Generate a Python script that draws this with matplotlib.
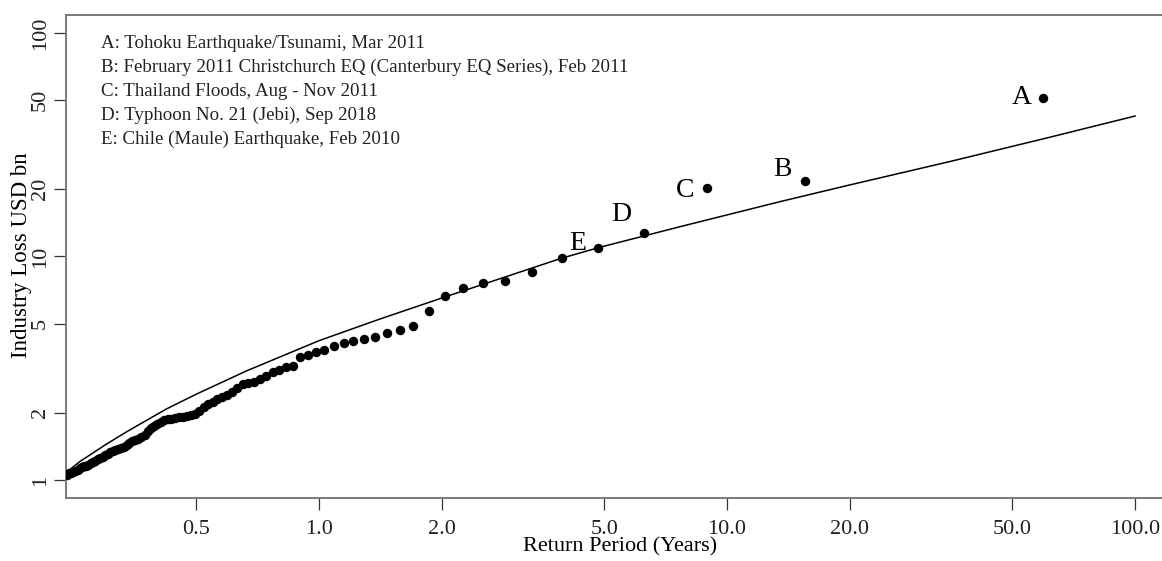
import matplotlib
matplotlib.use("Agg")
import matplotlib.pyplot as plt
from matplotlib.patches import Rectangle
from matplotlib.ticker import FixedLocator, FixedFormatter, NullFormatter

# observed industry losses (USD bn) against empirical return period (years)
return_period = [
    59.5, 15.5, 8.93, 6.26, 4.84, 3.93, 3.32, 2.86, 2.52, 2.25,
    2.04, 1.86, 1.70, 1.58, 1.47, 1.37, 1.29, 1.21, 1.15, 1.09,
    1.03, 0.986, 0.942, 0.901, 0.864, 0.830, 0.799, 0.770, 0.743, 0.717,
    0.694, 0.671, 0.651, 0.631, 0.613, 0.595, 0.579, 0.564, 0.549, 0.535,
    0.522, 0.509, 0.497, 0.486, 0.475, 0.464, 0.454, 0.445, 0.435, 0.427,
    0.418, 0.410, 0.402, 0.395, 0.387, 0.380, 0.374, 0.367, 0.361, 0.355,
    0.349, 0.343, 0.338, 0.332, 0.327, 0.322, 0.317, 0.313, 0.308, 0.304,
    0.299, 0.295, 0.291, 0.287, 0.283, 0.279, 0.276, 0.272, 0.269, 0.265,
    0.262, 0.259, 0.256, 0.253, 0.250, 0.247, 0.244, 0.241,
]
industry_loss = [
    51.4, 21.8, 20.3, 12.8, 10.95, 9.82, 8.53, 7.74, 7.59, 7.25,
    6.68, 5.72, 4.90, 4.69, 4.55, 4.36, 4.27, 4.19, 4.10, 3.96,
    3.82, 3.74, 3.63, 3.55, 3.25, 3.22, 3.12, 3.05, 2.92, 2.82,
    2.74, 2.72, 2.68, 2.58, 2.47, 2.40, 2.35, 2.30, 2.23, 2.19,
    2.12, 2.03, 1.97, 1.95, 1.93, 1.92, 1.91, 1.89, 1.88, 1.87,
    1.85, 1.82, 1.78, 1.74, 1.71, 1.66, 1.59, 1.56, 1.53, 1.51,
    1.49, 1.46, 1.43, 1.41, 1.39, 1.38, 1.36, 1.35, 1.33, 1.31,
    1.29, 1.27, 1.25, 1.24, 1.22, 1.20, 1.19, 1.17, 1.16, 1.15,
    1.14, 1.13, 1.11, 1.10, 1.09, 1.08, 1.07, 1.05,
]

# fitted curve
fit_rp = [0.2406, 0.2595, 0.30, 0.338, 0.423, 0.50, 0.665, 1.0, 1.41, 2.04,
          2.52, 3.93, 4.84, 7.68, 13.5, 20.0, 35.2, 62.0, 100.0]
fit_loss = [1.085, 1.21, 1.44, 1.645, 2.08, 2.42, 3.08, 4.2, 5.25, 6.6,
            7.5, 9.82, 10.95, 13.6, 17.6, 20.9, 26.6, 34.2, 42.5]

event_tags = ["A", "B", "C", "D", "E"]
event_names = [
    "A: Tohoku Earthquake/Tsunami, Mar 2011",
    "B: February 2011 Christchurch EQ (Canterbury EQ Series), Feb 2011",
    "C: Thailand Floods, Aug - Nov 2011",
    "D: Typhoon No. 21 (Jebi), Sep 2018",
    "E: Chile (Maule) Earthquake, Feb 2010",
]
# label offsets from the dot, in points
tag_offsets = [(-8, 0), (-9, 8), (-9, -2), (-9, 13), (-9, 3)]

x_ticks = [0.5, 1.0, 2.0, 5.0, 10.0, 20.0, 50.0, 100.0]
x_ticklabels = ["0.5", "1.0", "2.0", "5.0", "10.0", "20.0", "50.0", "100.0"]
y_ticks = [1, 2, 5, 10, 20, 50, 100]
y_ticklabels = ["1", "2", "5", "10", "20", "50", "100"]
grid_vals = [1, 10, 100]

plt.rcParams["font.family"] = ["Liberation Serif", "DejaVu Serif"]

W, H = 1162, 561
fig = plt.figure(figsize=(W / 100, H / 100), dpi=100)
ax = fig.add_axes([66 / W, 63 / H, 1110 / W, 483 / H])
ax.set_xscale("log")
ax.set_yscale("log")
ax.set_xlim(0.2399, 126)
ax.set_ylim(0.831, 120.3)

ax.xaxis.set_major_locator(FixedLocator(x_ticks))
ax.xaxis.set_major_formatter(FixedFormatter(x_ticklabels))
ax.yaxis.set_major_locator(FixedLocator(y_ticks))
ax.yaxis.set_major_formatter(FixedFormatter(y_ticklabels))
ax.xaxis.set_minor_locator(FixedLocator(grid_vals))
ax.yaxis.set_minor_locator(FixedLocator(grid_vals))
ax.xaxis.set_minor_formatter(NullFormatter())
ax.yaxis.set_minor_formatter(NullFormatter())
ax.tick_params(which="minor", length=0)
ax.tick_params(which="major", direction="out", length=8.5, width=0.9,
               color="#333333", labelsize=16, labelcolor="#222222")
ax.tick_params(axis="x", pad=7)
ax.tick_params(axis="y", pad=3)
plt.setp(ax.get_yticklabels(), rotation=90, va="center")
ax.grid(which="minor", color="#d8d8d8", linestyle=":", linewidth=1.0)
ax.set_axisbelow(True)

for side in ["left", "bottom", "top"]:
    ax.spines[side].set_color("#7a7a7a")
    ax.spines[side].set_linewidth(1.4)
ax.spines["right"].set_visible(False)

ax.plot(fit_rp, fit_loss, color="black", linewidth=1.1, zorder=3)
ax.plot(return_period, industry_loss, "o", color="black", markersize=6.8,
        markeredgewidth=0, zorder=4)

for i, tag in enumerate(event_tags):
    ax.annotate(tag, (return_period[i], industry_loss[i]),
                xytext=tag_offsets[i], textcoords="offset points",
                ha="right", va="center", fontsize=20)

# event key with white background covering the grid
ax.add_patch(Rectangle((0.005, 0.683), 0.571, 0.312, transform=ax.transAxes,
                       facecolor="white", edgecolor="none", zorder=2))
for i, name in enumerate(event_names):
    ax.text(0.0315, 0.942 - i * 24 / 483, name, transform=ax.transAxes,
            ha="left", va="center", fontsize=13.6, color="#222222", zorder=5)

ax.set_xlabel("Return Period (Years)", fontsize=16)
ax.set_ylabel("Industry Loss USD bn", fontsize=16.5)
ax.xaxis.label.set_va("center")
ax.yaxis.label.set_va("center")
ax.xaxis.set_label_coords((620 - 66) / 1110, -(547 - 498) / 483)
ax.yaxis.set_label_coords(-(66 - 22) / 1110, (498 - 255) / 483)

fig.savefig("out.png", dpi=100)
